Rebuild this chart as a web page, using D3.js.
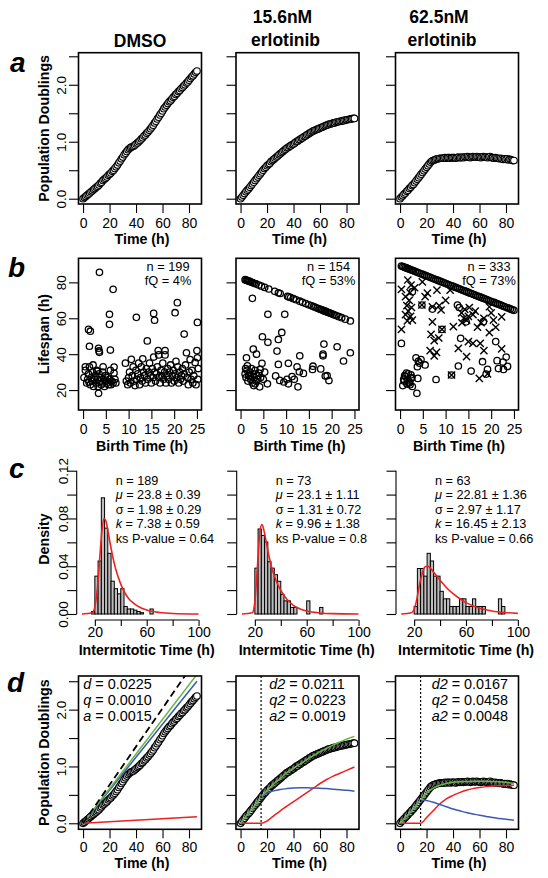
<!DOCTYPE html>
<html><head><meta charset="utf-8">
<script src="https://cdn.jsdelivr.net/npm/d3@7"></script>
<style>body{margin:0;background:#fff}</style>
</head><body><script>
// ---------------- DATA ----------------
const hours = [0,1,2,3,4,5,6,7,8,9,10,11,12,13,14,15,16,17,18,19,20,21,22,23,24,25,26,27,28,29,30,31,32,33,34,35,36,37,38,39,40,41,42,43,44,45,46,47,48,49,50,51,52,53,54,55,56,57,58,59,60,61,62,63,64,65,66,67,68,69,70,71,72,73,74,75,76,77,78,79,80,81,82,83,84,85,86];
const pdDMSO = [0.00,0.02,0.04,0.06,0.08,0.10,0.12,0.14,0.16,0.18,0.20,0.22,0.24,0.27,0.29,0.32,0.34,0.36,0.38,0.41,0.43,0.45,0.48,0.50,0.53,0.56,0.59,0.63,0.66,0.70,0.73,0.77,0.80,0.83,0.86,0.88,0.90,0.91,0.92,0.94,0.96,0.98,1.00,1.02,1.05,1.07,1.10,1.12,1.15,1.17,1.20,1.23,1.26,1.29,1.33,1.36,1.40,1.43,1.47,1.50,1.54,1.58,1.61,1.64,1.67,1.70,1.72,1.75,1.78,1.80,1.83,1.85,1.88,1.90,1.93,1.95,1.98,2.00,2.03,2.05,2.08,2.11,2.14,2.16,2.19,2.22,2.24];
const pd156 = [0.00,0.03,0.06,0.09,0.12,0.15,0.17,0.20,0.23,0.26,0.29,0.32,0.35,0.38,0.41,0.44,0.47,0.50,0.53,0.55,0.58,0.60,0.62,0.65,0.67,0.69,0.71,0.73,0.75,0.77,0.79,0.81,0.83,0.85,0.87,0.89,0.90,0.92,0.93,0.95,0.96,0.98,1.00,1.01,1.03,1.04,1.06,1.07,1.09,1.10,1.12,1.13,1.15,1.16,1.18,1.19,1.20,1.21,1.22,1.23,1.24,1.25,1.26,1.27,1.28,1.29,1.30,1.31,1.31,1.32,1.33,1.33,1.34,1.35,1.35,1.36,1.36,1.37,1.37,1.38,1.38,1.39,1.39,1.40,1.40,1.41,1.41];
const pd625 = [0.00,0.03,0.05,0.08,0.10,0.13,0.15,0.18,0.20,0.23,0.25,0.28,0.31,0.34,0.37,0.40,0.43,0.46,0.49,0.52,0.55,0.58,0.61,0.64,0.66,0.67,0.68,0.69,0.70,0.70,0.71,0.71,0.71,0.71,0.72,0.71,0.72,0.72,0.71,0.72,0.72,0.72,0.71,0.72,0.73,0.72,0.72,0.73,0.72,0.73,0.73,0.74,0.73,0.72,0.73,0.74,0.73,0.73,0.74,0.73,0.73,0.72,0.73,0.74,0.73,0.73,0.72,0.73,0.74,0.72,0.72,0.71,0.72,0.71,0.71,0.70,0.71,0.70,0.69,0.70,0.69,0.70,0.68,0.69,0.68,0.67,0.67];

// row b: birth time vs lifespan
const birthDMSO = [0.2,0.5,0.8,1.0,1.2,1.4,1.6,1.8,2.0,2.1,2.3,2.5,2.7,2.9,3.0,3.2,3.3,3.4,3.5,3.7,3.9,4.0,4.2,4.3,4.5,4.7,4.9,5.0,5.2,5.4,5.6,5.8,6.0,6.1,6.3,6.6,6.8,7.0,7.2,0.5,4.4,2.2,3.1,1.3,6.8,
 9.3,9.5,9.8,10.0,10.2,10.4,10.6,10.8,11.0,11.2,11.4,11.6,11.8,12.0,12.2,12.4,12.6,12.8,13.0,13.1,13.3,13.5,13.7,13.9,
 14.2,14.4,14.6,14.8,15.0,15.2,15.4,15.5,15.7,15.9,16.1,16.3,16.5,16.6,16.7,16.9,17.1,17.3,17.5,17.7,17.9,18.0,18.0,18.2,18.4,18.6,18.8,19.0,19.2,19.4,19.6,19.8,20.0,20.2,20.4,20.6,20.8,21.0,21.2,21.4,21.6,21.8,22.0,22.2,22.5,22.7,22.9,23.1,23.3,23.5,23.7,23.9,24.1,24.3,24.6,24.8,25.0,25.1,25.2,25.3,
 3.6,6.6,5.8,5.8,1.2,1.6,1.4,3.4,3.5,3.6,6.0,11.7,15.5,15.7,14.1,20.2,20.7,22.2,25.1];
const lifeDMSO = [27,31,24,26,29,33,23,27,25,30,22,26,28,24,31,26,22,18.2,29,25,27,23,24,30,26,22,28,25,24,27,23,26,31,23,25,24,32.8,26,24,33,33,34,30.5,24.5,29.5,
 35,25,23,27,30,24,37.1,28,33,25,22.5,31,26,29,35,23,27,33,25,37.4,30,28,24,32,
 26,30,35,28,24,32,27,38.4,30,25,29,33,42,39.6,27,24,31,28,35,26,30,42,39.6,24,28,32,26,30,34,24,28,31,25,29,36,27,33,24,30,26,28,32,25,29,34,40.8,27,23,30,37,26,31,24,28,35.4,23,42,38,26,32,
 85.6,76.1,62.2,56.6,53.8,52.8,44.4,43.3,41.8,41.0,42.3,60.5,62.7,58.9,47.4,63.1,68.7,51.2,57.7];

const birth156 = [1.0,1.2,1.4,1.6,1.8,2.0,2.3,2.6,3.0,3.4,4.0,4.6,5.3,6.2,7.5,8.3,8.7,10.3,10.6,11.0,11.6,12.2,13.0,13.6,14.3,15.0,15.6,16.0,16.4,16.8,17.2,17.5,17.8,18.1,18.4,18.7,19.0,19.3,19.6,19.9,20.3,20.7,21.1,21.6,22.2,23.0,24.1,
 2.6,6.0,9.7,9.05,4.8,6.0,8.3,2.8,1.3,8.0,13.0,18.3,21.2,18.1,18.1,22.6,24.1,4.7,8.3,10.5,12.4,15.9,17.6,12.9,13.8,15.8,18.6,19.4,19.0,12.6,10.5,8.6,7.7,5.9,4.2,11.3,11.8,9.5,10.2,3.5,
 1.0,1.2,1.4,1.6,1.8,2.0,2.2,2.4,2.6,2.8,3.0,3.2,3.4,3.6,3.8,1.5,2.9,3.2,1.1,2.1,4.0,4.4,4.3,5.0,5.3];
const life156 = [81.5,81.3,81.1,80.9,80.7,80.5,80.2,79.9,79.5,79.1,78.5,77.9,77.2,76.3,75.0,74.2,73.8,72.2,71.9,71.5,70.9,70.3,69.5,68.9,68.2,67.5,66.9,66.5,66.1,65.7,65.3,65.0,64.7,64.4,64.1,63.8,63.5,63.2,62.9,62.6,62.2,61.8,61.4,60.9,60.3,59.5,58.5,
 71.1,62.2,62.2,52.1,49.7,46.6,48.2,42.8,38.0,41.7,39.1,45.6,44.1,39.1,40.0,36.2,40.8,34.9,34.3,34.9,33.0,33.3,31.8,30.2,29.3,31.5,27.8,25.3,28.0,21.8,23.5,25.4,27.9,23.5,21.8,27.5,26.0,24.5,26.0,40.0,
 29,27,31,25,28,30,26,32,24,29,27,31,25,28,26,33.5,22.5,23.5,32,28,29.5,27,31.5,26,30];

const birth625 = [0.3,0.6,0.9,1.2,1.5,1.8,2.1,2.4,2.7,3.0,3.4,3.8,4.2,4.6,5.0,5.4,5.8,6.2,6.6,7.0,7.4,7.8,8.2,8.6,9.0,9.4,9.8,10.2,10.6,11.0,11.4,11.8,12.2,12.6,13.0,13.4,13.8,14.2,14.6,15.0,15.4,15.8,16.2,16.6,17.0,17.4,17.8,18.2,18.6,19.0,19.4,19.8,20.2,20.6,21.0,21.4,21.8,22.2,22.6,23.0,23.4,23.8,24.2,24.6,25.0,
 0.3,0.6,0.9,1.2,1.5,1.8,2.1,2.4,2.7,1.0,1.6,2.2,2.6,1.4,2.0,0.8,2.4,3.7,3.9,5.5,3.5,4.0,3.8,4.3,4.6,7.9,12.8,11.3,15.6,18.1,19.2,18.9,21.3,21.6,22.6,23.3,23.6,22.7,21.0,18.3,13.3,12.6,7.1,2.7,4.8,9.2,14.5,13.0];
const life625 = [89.1,88.8,88.5,88.2,87.9,87.6,87.3,87.0,86.7,86.4,86.0,85.6,85.2,84.8,84.4,84.0,83.6,83.2,82.8,82.4,82.0,81.6,81.2,80.8,80.4,80.0,79.6,79.2,78.8,78.4,78.0,77.6,77.2,76.8,76.4,76.0,75.6,75.2,74.8,74.4,74.0,73.6,73.2,72.8,72.4,72.0,71.6,71.2,70.8,70.4,70.0,69.6,69.2,68.8,68.4,68.0,67.6,67.2,66.8,66.4,66.0,65.6,65.2,64.8,64.4,
 46.0,22.5,25.0,27.5,23.5,29.0,24.5,26.5,22.0,28.0,25.5,23.0,27.0,29.5,24.0,26.0,28.5,18.2,26.5,34.0,38.0,36.0,33.0,35.0,37.0,25.9,33.4,28.4,30.6,35.8,31.6,28.9,36.4,32.0,35.6,38.4,33.2,31.5,47.0,58.1,48.8,67.4,65.1,74.8,67.4,53.8,58.0,66.0];
const crossBirth625 = [1.7,2.4,0.3,2.2,1.2,2.0,1.5,2.5,1.8,1.2,2.3,2.7,1.6,4.9,8.1,11.0,4.8,7.1,8.6,9.0,7.1,0.3,9.2,11.7,6.8,8.5,7.5,12.8,6.6,8.0,7.5,14.6,13.5,14.2,15.0,14.6,14.0,13.6,16.0,15.2,15.0,16.0,17.6,18.4,17.0,18.4,17.8,20.0,21.0,20.5,19.6,22.3,17.4,11.3,19.2,19.6,22.3,5.5,10.0,16.5,3.2,6.0];
const crossLife625 = [81.3,78.5,76.1,74.2,72.0,70.0,67.0,66.0,64.0,62.0,61.0,59.0,58.5,80.3,75.7,75.7,67.4,66.4,67.0,64.6,58.0,53.8,53.8,55.3,51.0,49.0,47.5,43.2,42.0,41.0,39.0,38.6,63.0,65.0,61.0,59.0,60.0,57.5,62.0,66.0,47.0,46.0,46.0,42.0,55.0,60.0,57.5,63.0,55.0,59.0,52.0,43.0,26.5,28.4,29.0,66.4,60.8,72.0,70.0,64.0,77.0,74.0];

// row c: histograms (left break, density), bin width 2.5 h
const histLeft1 = [17.5,20,22.5,25,27.5,30,32.5,35,37.5,40,42.5,45,47.5,50,52.5,55,62.5];
const histDens1 = [0.0021,0.0317,0.0444,0.0973,0.0719,0.0508,0.0275,0.0212,0.0169,0.0212,0.0063,0.0042,0.0042,0.0032,0.0021,0.0011,0.0042];
const histLeft2 = [20,22.5,25,27.5,30,32.5,35,37.5,40,42.5,45,47.5,50,60,70];
const histDens2 = [0.0384,0.0712,0.0658,0.0603,0.0438,0.0384,0.0329,0.0274,0.0164,0.0110,0.0110,0.0055,0.0055,0.0110,0.0055];
const histLeft3 = [20,22.5,25,27.5,30,32.5,35,37.5,40,42.5,45,47.5,50,52.5,55,57.5,60,62.5,65,67.5,70,72.5,85,87.5];
const histDens3 = [0.0063,0.0381,0.0381,0.0317,0.0508,0.0444,0.0317,0.0317,0.0190,0.0127,0.0127,0.0063,0.0063,0.0063,0.0127,0.0127,0.0063,0.0063,0.0127,0.0063,0.0063,0.0063,0.0127,0.0063];
const fitT1 = [10,18,20,22,24,25.5,27,28.5,30,32,34,36,38,40,43,46,50,55,60,70,80,100];
const fitD1 = [0,0.001,0.006,0.022,0.050,0.070,0.080,0.078,0.070,0.058,0.047,0.038,0.031,0.025,0.018,0.013,0.009,0.0055,0.0033,0.0012,0.0004,0];
const fitT2 = [10,18,20,22,24,25.5,27,29,31,33,35,38,41,45,50,55,60,70,80,100];
const fitD2 = [0,0.001,0.010,0.040,0.070,0.075,0.070,0.059,0.048,0.039,0.032,0.024,0.018,0.012,0.007,0.0042,0.0025,0.0009,0.0003,0];
const fitT3 = [10,18,20,22,24,26,28,30,32,35,38,41,45,50,55,60,65,70,80,90,100];
const fitD3 = [0,0.001,0.004,0.012,0.024,0.033,0.039,0.040,0.039,0.035,0.031,0.027,0.022,0.017,0.013,0.0095,0.007,0.005,0.0025,0.0012,0.0005];

// row d: model fits
const lineT = [0,86];
const dmsoDashed = [0,2.90];
const dmsoGreen = [0,2.62];
const dmsoBlue = [0,2.50];
const dmsoRed = [0,0.116];
const modelT = [0,5,10,15.5,20,25,30,35,40,45,50,55,60,65,70,75,80,86];
const green156 = [0,0.15,0.29,0.46,0.58,0.69,0.79,0.89,0.97,1.04,1.12,1.19,1.26,1.32,1.38,1.43,1.48,1.53];
const blue156  = [0,0.15,0.29,0.46,0.53,0.57,0.595,0.61,0.62,0.625,0.625,0.62,0.615,0.61,0.60,0.59,0.58,0.565];
const red156   = [0,0,0,0,0.04,0.13,0.22,0.30,0.38,0.46,0.54,0.62,0.70,0.77,0.83,0.88,0.93,0.99];
const green625 = [0,0.13,0.25,0.41,0.53,0.62,0.67,0.70,0.72,0.73,0.735,0.74,0.74,0.74,0.735,0.73,0.72,0.70];
const blue625  = [0,0.13,0.25,0.41,0.40,0.37,0.33,0.29,0.25,0.22,0.19,0.165,0.14,0.12,0.10,0.085,0.07,0.055];
const red625   = [0,0,0,0,0.10,0.22,0.34,0.43,0.49,0.54,0.58,0.61,0.63,0.645,0.655,0.66,0.665,0.67];
const lagTime = 15.5;

const headers = [["DMSO"],["15.6nM","erlotinib"],["62.5nM","erlotinib"]];
const statsB = [["n = 199","fQ = 4%"],["n = 154","fQ = 53%"],["n = 333","fQ = 73%"]];
const statsC = [["189","23.8 ± 0.39","1.98 ± 0.29","7.38 ± 0.59","0.64"],
                ["73","23.1 ± 1.11","1.31 ± 0.72","9.96 ± 1.38","0.8"],
                ["63","22.81 ± 1.36","2.97 ± 1.17","16.45 ± 2.13","0.66"]];
const statsD = [[["d","0.0225"],["q","0.0010"],["a","0.0015"]],
                [["d2","0.0211"],["q2","0.0223"],["a2","0.0019"]],
                [["d2","0.0167"],["q2","0.0458"],["a2","0.0048"]]];
const ticksPD = [0,0.5,1,1.5,2,2.5], labelsPD = [0,1,2];
const ticksT = [0,20,40,60,80];
const ticksBirth = [0,5,10,15,20,25];
const ticksLife = [20,40,60,80];
const ticksDens = [0,0.02,0.04,0.06,0.08,0.1,0.12], labelsDens = [0,0.04,0.08,0.12];
const ticksIMT = [20,40,60,80,100], labelsIMT = [20,60,100];

// ---------------- DRAW ----------------
const FONT = '"Liberation Sans", Arial, Helvetica, sans-serif';
const svg = d3.select("body").append("svg").attr("width",548).attr("height",878)
  .style("font-family",FONT);
const colX = [78.5, 236, 395.5], PW = 123;
const RED="#ee2020", GREEN="#62b843", BLUE="#3c58b0";

function txt(x,y,s,o={}){
  const t = svg.append("text").attr("x",x).attr("y",y).text(s)
    .attr("font-size",o.fs||13).attr("fill","#000")
    .attr("text-anchor",o.anchor||"start");
  if(o.bold) t.attr("font-weight","bold");
  if(o.italic) t.attr("font-style","italic");
  if(o.rot) t.attr("transform",`rotate(-90,${x},${y})`);
  return t;
}
function fmtTick(g, fs){
  g.select(".domain").remove();
  g.selectAll(".tick line").attr("stroke","#000").attr("stroke-width",1.1);
  g.selectAll(".tick text").attr("font-size",fs).attr("fill","#000").attr("font-family",FONT);
}
function bottomAxis(xs, y, ticks, labels, fmt, base, tsize){
  const g = svg.append("g").attr("transform",`translate(0,${y})`)
    .call(d3.axisBottom(xs).tickValues(ticks).tickSize(tsize||9).tickFormat(d=> labels.includes(d)? fmt(d):""));
  fmtTick(g,14);
  g.selectAll(".tick text").attr("dy",null).attr("y",base);
  return g;
}
function leftAxis(ys, x, ticks, labels, fmt, off, showLabels){
  const g = svg.append("g").attr("transform",`translate(${x},0)`)
    .call(d3.axisLeft(ys).tickValues(ticks).tickSize(9.5).tickFormat(d=> (showLabels && labels.includes(d))? fmt(d):""));
  fmtTick(g,13.5);
  g.selectAll(".tick text").attr("x",null).attr("dy",null).attr("y",null)
    .attr("text-anchor","middle").attr("transform",`translate(${-off},0) rotate(-90)`);
  return g;
}
function box(x0,top,bottom){
  svg.append("rect").attr("x",x0).attr("y",top).attr("width",PW).attr("height",bottom-top)
    .attr("fill","none").attr("stroke","#000").attr("stroke-width",1.6);
}

// headers
headers.forEach((h,i)=>{
  const cx = [140,284,440.5][i];
  if(h.length===1) txt(cx,46.7,h[0],{fs:17.5,bold:true,anchor:"middle"});
  else { txt(cx-1.5,23.3,h[0],{fs:17.5,bold:true,anchor:"middle"}); txt(cx+1.5,46,h[1],{fs:17.5,bold:true,anchor:"middle"}); }
});
// panel letters
[["a",10,72],["b",8,277],["c",9,478],["d",7,692]].forEach(([l,x,y])=>txt(x,y,l,{fs:28,bold:true,italic:true}));

// ---- rows a & d ----
const pdSets = [pdDMSO,pd156,pd625];
function pdPanel(i, top, bottom, ydom, clipId, base){
  const x0 = colX[i];
  const xs = d3.scaleLinear().domain([-3.44,89.44]).range([x0,x0+PW]);
  const ys = d3.scaleLinear().domain(ydom).range([bottom,top]);
  svg.append("clipPath").attr("id",clipId).append("rect").attr("x",x0).attr("y",top).attr("width",PW).attr("height",bottom-top);
  leftAxis(ys,x0,ticksPD,labelsPD,d=>d3.format(".1f")(d),12.3,i===0);
  bottomAxis(xs,bottom,ticksT,ticksT,d=>d,base);
  return {xs,ys,g:svg.append("g").attr("clip-path",`url(#${clipId})`)};
}
function drawPoints(p, vals){
  p.g.selectAll(null).data(hours).enter().append("circle")
    .attr("cx",(d)=>p.xs(d)).attr("cy",(d,j)=>p.ys(vals[j])).attr("r",3.3)
    .attr("fill","#fff").attr("stroke","#000").attr("stroke-width",1.1);
}
function drawLine(p, ts, vs, color, dash, w){
  const l = d3.line().x((d,j)=>p.xs(ts[j])).y(d=>p.ys(d)).curve(d3.curveMonotoneX);
  p.g.append("path").attr("d",l(vs)).attr("fill","none").attr("stroke",color)
    .attr("stroke-width",w||1.5).attr("stroke-dasharray",dash||null);
}
const rowA = {top:52.7,bottom:204,dom:[-0.093,2.563]};
const rowD = {top:676,bottom:829.3,dom:[-0.106,2.592]};
for(let i=0;i<3;i++){
  const p = pdPanel(i,rowA.top,rowA.bottom,rowA.dom,"ca"+i,24);
  drawPoints(p,pdSets[i]);
  box(colX[i],rowA.top,rowA.bottom);
  txt(colX[i]+PW/2+2,243.5,"Time (h)",{fs:14.2,bold:true,anchor:"middle"});
}
txt(49,(rowA.top+rowA.bottom)/2,"Population Doublings",{fs:14.2,bold:true,anchor:"middle",rot:true});

const fits = [
  [[lineT,dmsoRed,RED],[lineT,dmsoBlue,BLUE],[lineT,dmsoGreen,GREEN],[lineT,dmsoDashed,"#000","7,4"]],
  [[modelT,red156,RED],[modelT,blue156,BLUE],[modelT,green156,GREEN]],
  [[modelT,red625,RED],[modelT,blue625,BLUE],[modelT,green625,GREEN]]];
const statX = [83.3,269.3,431.7];
for(let i=0;i<3;i++){
  const p = pdPanel(i,rowD.top,rowD.bottom,rowD.dom,"cd"+i,22.7);
  drawPoints(p,pdSets[i]);
  fits[i].forEach(f=>drawLine(p,f[0],f[1],f[2],f[3],f[3]?1.8:1.5));
  if(i>0) p.g.append("line").attr("x1",p.xs(lagTime)).attr("x2",p.xs(lagTime))
    .attr("y1",rowD.top).attr("y2",rowD.bottom).attr("stroke","#000").attr("stroke-width",1.2).attr("stroke-dasharray","2,2");
  box(colX[i],rowD.top,rowD.bottom);
  statsD[i].forEach((s,k)=>{
    const t = txt(statX[i],689+k*16.2,"",{fs:14.4});
    t.append("tspan").attr("font-style","italic").text(s[0]);
    t.append("tspan").text(" = "+s[1]);
  });
  txt(colX[i]+PW/2+2,868,"Time (h)",{fs:14.2,bold:true,anchor:"middle"});
}
txt(49,(rowD.top+rowD.bottom)/2,"Population Doublings",{fs:14.2,bold:true,anchor:"middle",rot:true});

// ---- row b ----
const rowB = {top:258.3,bottom:410};
const bSets = [[birthDMSO,lifeDMSO],[birth156,life156],[birth625,life625]];
const bCenters = [168,328.5,489];
for(let i=0;i<3;i++){
  const x0 = colX[i];
  const xs = d3.scaleLinear().domain([-1,26]).range([x0,x0+PW]);
  const ys = d3.scaleLinear().domain([8.9,93.4]).range([rowB.bottom,rowB.top]);
  leftAxis(ys,x0,ticksLife,ticksLife,d=>d,12.3,i===0);
  bottomAxis(xs,rowB.bottom,ticksBirth,ticksBirth,d=>d,24);
  const [bx,ly] = bSets[i];
  svg.append("g").selectAll("circle").data(bx).enter().append("circle")
    .attr("cx",d=>xs(d)).attr("cy",(d,j)=>ys(ly[j])).attr("r",3.2)
    .attr("fill","none").attr("stroke","#000").attr("stroke-width",1.3);
  if(i===2){
    svg.append("g").selectAll("path").data(crossBirth625).enter().append("path")
      .attr("d","M-3.6,-3.6L3.6,3.6M-3.6,3.6L3.6,-3.6")
      .attr("transform",(d,j)=>`translate(${xs(d)},${ys(crossLife625[j])})`)
      .attr("stroke","#000").attr("stroke-width",1.4).attr("fill","none");
  }
  box(x0,rowB.top,rowB.bottom);
  txt(bCenters[i],270.7,statsB[i][0],{fs:12.8,anchor:"middle"});
  txt(bCenters[i],285,statsB[i][1],{fs:12.8,anchor:"middle"});
  txt(x0+PW/2+2,450.5,"Birth Time (h)",{fs:14.2,bold:true,anchor:"middle"});
}
txt(49,(rowB.top+rowB.bottom)/2,"Lifespan (h)",{fs:14.2,bold:true,anchor:"middle",rot:true});

// ---- row c ----
const cAxisX = [76.7,236.7,396], CW = 140;
const hists = [[histLeft1,histDens1,fitT1,fitD1],[histLeft2,histDens2,fitT2,fitD2],[histLeft3,histDens3,fitT3,fitD3]];
const binW = 2.5;
for(let i=0;i<3;i++){
  const ax = cAxisX[i];
  const xs = d3.scaleLinear().domain([6,114]).range([ax,ax+CW]);
  const ys = d3.scaleLinear().domain([0,0.12]).range([614,470.7]);
  const [hl,hd,ft,fd] = hists[i];
  svg.append("g").selectAll("rect").data(hl).enter().append("rect")
    .attr("x",d=>xs(d)).attr("width",d=>xs(d+binW)-xs(d))
    .attr("y",(d,j)=>ys(hd[j])).attr("height",(d,j)=>ys(0)-ys(hd[j]))
    .attr("fill","#bdbdbd").attr("stroke","#000").attr("stroke-width",1);
  const l = d3.line().x((d,j)=>xs(ft[j])).y(d=>ys(d)).curve(d3.curveMonotoneX);
  svg.append("path").attr("d",l(fd)).attr("fill","none").attr("stroke",RED).attr("stroke-width",1.6);
  leftAxis(ys,ax,ticksDens,labelsDens,d=>d3.format(".2f")(d),9,i===0);
  svg.append("line").attr("x1",ax).attr("x2",ax).attr("y1",ys(0)).attr("y2",ys(0.12)).attr("stroke","#000").attr("stroke-width",1.1);
  bottomAxis(xs,620,ticksIMT,labelsIMT,d=>d,17,6);
  svg.append("line").attr("x1",xs(20)).attr("x2",xs(100)).attr("y1",620).attr("y2",620).attr("stroke","#000").attr("stroke-width",1.1);
  const sx = ax+39;
  const rowsTxt = [
    [["n = "+statsC[i][0],false]],
    [["μ",true],[" = "+statsC[i][1],false]],
    [["σ = "+statsC[i][2],false]],
    [["k",true],[" = "+statsC[i][3],false]],
    [["ks P-value = "+statsC[i][4],false]]];
  rowsTxt.forEach((parts,k)=>{
    const t = txt(sx,485+k*14.4,"",{fs:12.7});
    parts.forEach(p=>t.append("tspan").attr("font-style",p[1]?"italic":null).text(p[0]));
  });
  txt(ax+CW/2,654.5,"Intermitotic Time (h)",{fs:14.2,bold:true,anchor:"middle"});
}
txt(49,539,"Density",{fs:14.2,bold:true,anchor:"middle",rot:true});
</script></body></html>
